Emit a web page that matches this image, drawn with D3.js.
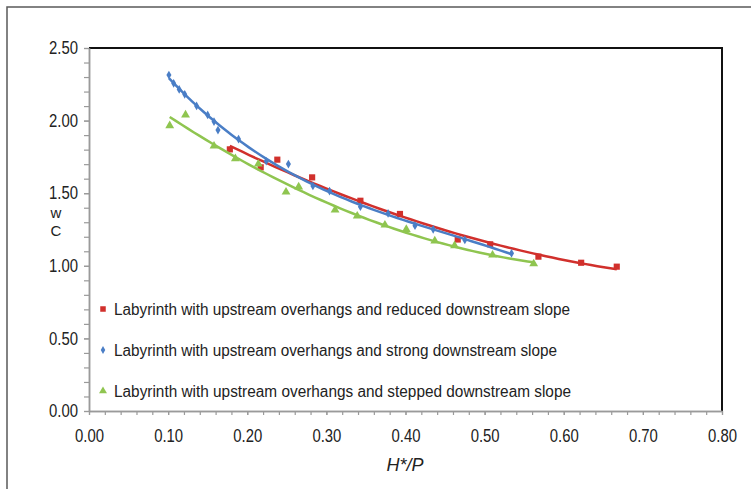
<!DOCTYPE html>
<html>
<head>
<meta charset="utf-8">
<script src="https://cdn.jsdelivr.net/npm/d3@7"></script>
<style>
  body { margin: 0; background: #fff; }
  svg { display: block; }
  .tick-label { font-family: "Liberation Sans", Arial, sans-serif; font-size: 18px; fill: #222; }
  .legend-text { font-family: "Liberation Sans", Arial, sans-serif; font-size: 16px; fill: #222; }
</style>
</head>
<body>
<svg id="chart" width="751" height="489"></svg>
<script>
// series values
const seriesNames = [
  "Labyrinth with upstream overhangs and reduced downstream slope",
  "Labyrinth with upstream overhangs and strong downstream slope",
  "Labyrinth with upstream overhangs and stepped downstream slope",
];
const reducedX = [0.178, 0.217, 0.238, 0.282, 0.343, 0.393, 0.466, 0.507, 0.568, 0.622, 0.667];
const reducedY = [1.802, 1.678, 1.731, 1.609, 1.448, 1.357, 1.181, 1.148, 1.063, 1.021, 0.994];
const strongX = [0.101, 0.107, 0.114, 0.121, 0.136, 0.150, 0.158, 0.163, 0.189, 0.224, 0.252, 0.283, 0.304, 0.343, 0.378, 0.412, 0.435, 0.475, 0.534];
const strongY = [2.314, 2.257, 2.215, 2.181, 2.101, 2.039, 1.993, 1.935, 1.873, 1.720, 1.701, 1.550, 1.515, 1.407, 1.361, 1.276, 1.251, 1.178, 1.086];
const steppedX = [0.102, 0.122, 0.158, 0.185, 0.214, 0.249, 0.265, 0.311, 0.339, 0.374, 0.401, 0.437, 0.462, 0.510, 0.562];
const steppedY = [1.965, 2.039, 1.825, 1.738, 1.701, 1.508, 1.543, 1.384, 1.343, 1.281, 1.251, 1.171, 1.139, 1.074, 1.014];

const xTicks = [0, 0.1, 0.2, 0.3, 0.4, 0.5, 0.6, 0.7, 0.8];
const yTicks = [0, 0.5, 1.0, 1.5, 2.0, 2.5];

const COLORS = { red: "#d1302c", blue: "#4a7ec6", green: "#8fc550" };

const svg = d3.select("#chart");

// outer frame (runs off the right / bottom edge)
svg.append("rect")
  .attr("x", 7).attr("y", 7)
  .attr("width", 800).attr("height", 600)
  .attr("fill", "none")
  .attr("stroke", "#5a5a5a")
  .attr("stroke-width", 1.5);

const plot = { left: 89, right: 722, top: 48, bottom: 411 };

const x = d3.scaleLinear().domain([0, 0.8]).range([plot.left, plot.right]);
const y = d3.scaleLinear().domain([0, 2.5]).range([plot.bottom, plot.top]);

// black top/right border of the plot area
svg.append("path")
  .attr("d", `M${plot.left},${plot.top}H${plot.right}V${plot.bottom}`)
  .attr("fill", "none")
  .attr("stroke", "#111")
  .attr("stroke-width", 2);

function styleAxis(g) {
  g.select(".domain").attr("stroke", "#9a9a9a").attr("stroke-width", 1.5);
  g.selectAll(".tick line").attr("stroke", "#9a9a9a").attr("stroke-width", 1.2);
}

// narrow the tick labels like the original's condensed face
function styleLabels(g) {
  g.selectAll(".tick text")
    .attr("class", "tick-label")
    .attr("fill", null)
    .attr("textLength", 29)
    .attr("lengthAdjust", "spacingAndGlyphs");
}

// minor ticks
svg.append("g")
  .attr("transform", `translate(0,${plot.bottom})`)
  .call(d3.axisBottom(x).tickValues(d3.range(0, 0.8001, 0.02)).tickSize(4).tickFormat("").tickSizeOuter(0))
  .call(styleAxis);
svg.append("g")
  .attr("transform", `translate(${plot.left},0)`)
  .call(d3.axisLeft(y).tickValues(d3.range(0, 2.5001, 0.1)).tickSize(5).tickFormat("").tickSizeOuter(0))
  .call(styleAxis);

// major ticks + labels
svg.append("g")
  .attr("transform", `translate(0,${plot.bottom})`)
  .call(d3.axisBottom(x).tickValues(xTicks).tickSize(4).tickPadding(14).tickFormat(d3.format(".2f")).tickSizeOuter(0))
  .call(styleAxis)
  .call(styleLabels);

svg.append("g")
  .attr("transform", `translate(${plot.left},0)`)
  .call(d3.axisLeft(y).tickValues(yTicks).tickSize(5).tickPadding(6).tickFormat(d3.format(".2f")).tickSizeOuter(0))
  .call(styleAxis)
  .call(styleLabels);

// axis titles
svg.append("text")
  .attr("x", 405).attr("y", 471)
  .attr("text-anchor", "middle")
  .attr("font-family", "Liberation Sans, Arial, sans-serif")
  .attr("font-style", "italic")
  .attr("font-size", 18)
  .attr("textLength", 37)
  .attr("lengthAdjust", "spacingAndGlyphs")
  .attr("fill", "#222")
  .text("H*/P");

svg.append("text")
  .attr("x", 56).attr("y", 218)
  .attr("text-anchor", "middle")
  .attr("font-family", "Liberation Sans, Arial, sans-serif")
  .attr("font-size", 15)
  .attr("fill", "#222")
  .text("w");
svg.append("text")
  .attr("x", 56).attr("y", 236)
  .attr("text-anchor", "middle")
  .attr("font-family", "Liberation Sans, Arial, sans-serif")
  .attr("font-size", 15)
  .attr("fill", "#222")
  .text("C");

// least-squares polynomial trendline, as the spreadsheet does
function polyFit(xs, ys, order) {
  const n = order + 1;
  const A = Array.from({ length: n }, () => new Array(n + 1).fill(0));
  xs.forEach((xv, k) => {
    for (let i = 0; i < n; i++) {
      for (let j = 0; j < n; j++) A[i][j] += Math.pow(xv, i + j);
      A[i][n] += ys[k] * Math.pow(xv, i);
    }
  });
  for (let i = 0; i < n; i++) {
    let p = i;
    for (let r = i + 1; r < n; r++) if (Math.abs(A[r][i]) > Math.abs(A[p][i])) p = r;
    [A[i], A[p]] = [A[p], A[i]];
    for (let r = 0; r < n; r++) {
      if (r === i) continue;
      const f = A[r][i] / A[i][i];
      for (let c = i; c <= n; c++) A[r][c] -= f * A[i][c];
    }
  }
  const coef = A.map((row, i) => row[n] / row[i]);
  return xv => coef.reduce((s, c, i) => s + c * Math.pow(xv, i), 0);
}

const series = [
  { xs: reducedX, ys: reducedY, color: COLORS.red, symbol: d3.symbolSquare, size: 38, order: 2 },
  { xs: strongX, ys: strongY, color: COLORS.blue, symbol: d3.symbolDiamond, size: 22, order: 3 },
  { xs: steppedX, ys: steppedY, color: COLORS.green, symbol: d3.symbolTriangle, size: 34, order: 2 },
];

const line = d3.line().x(d => x(d[0])).y(d => y(d[1]));

series.forEach(s => {
  const fit = polyFit(s.xs, s.ys, s.order);
  const [x0, x1] = d3.extent(s.xs);
  const pts = d3.range(0, 61).map(i => {
    const xv = x0 + (x1 - x0) * i / 60;
    return [xv, fit(xv)];
  });

  svg.append("g")
    .selectAll(".marker")
    .data(s.xs.map((xv, i) => [xv, s.ys[i]]))
    .join("path")
    .attr("class", "marker")
    .attr("transform", d => `translate(${x(d[0])},${y(d[1])})`)
    .attr("d", d3.symbol().type(s.symbol).size(s.size))
    .attr("fill", s.color);

  svg.append("path")
    .datum(pts)
    .attr("d", line)
    .attr("fill", "none")
    .attr("stroke", s.color)
    .attr("stroke-width", 2.5);
});

// legend
const legend = svg.append("g");
series.forEach((s, i) => {
  const ly = 309 + i * 41;
  legend.append("path")
    .attr("transform", `translate(103,${ly})`)
    .attr("d", d3.symbol().type(s.symbol).size(s.size * 0.8))
    .attr("fill", s.color);
  legend.append("text")
    .attr("class", "legend-text")
    .attr("x", 114).attr("y", ly)
    .attr("dy", "0.35em")
    .attr("textLength", [456, 443, 457][i])
    .attr("lengthAdjust", "spacingAndGlyphs")
    .text(seriesNames[i]);
});
</script>
</body>
</html>
